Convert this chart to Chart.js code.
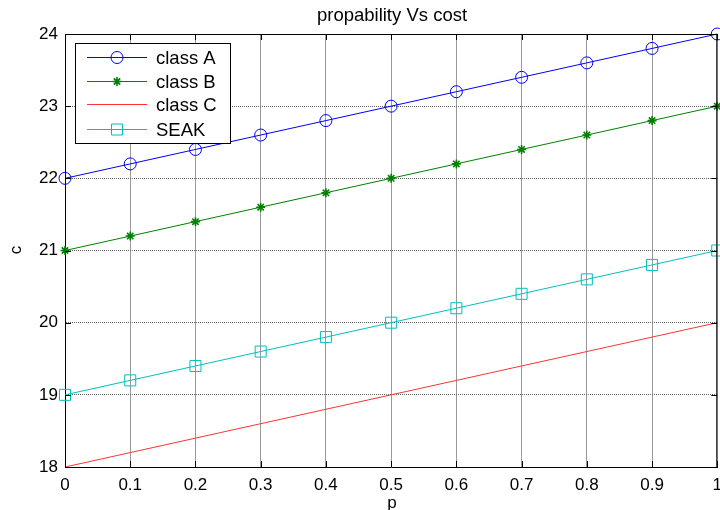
<!DOCTYPE html>
<html>
<head>
<meta charset="utf-8">
<script src="https://cdn.jsdelivr.net/npm/chart.js@4.4.1/dist/chart.umd.min.js"></script>
<style>
  html, body { margin: 0; padding: 0; background: #fff; overflow: hidden; }
  #wrap { width: 730px; height: 520px; }
</style>
</head>
<body>
<div id="wrap"><canvas id="c" width="730" height="520"></canvas></div>
<script>
// values
const pValues = [0, 0.1, 0.2, 0.3, 0.4, 0.5, 0.6, 0.7, 0.8, 0.9, 1];
const classA = [22, 22.2, 22.4, 22.6, 22.8, 23, 23.2, 23.4, 23.6, 23.8, 24];
const classB = [21, 21.2, 21.4, 21.6, 21.8, 22, 22.2, 22.4, 22.6, 22.8, 23];
const classC = [18, 18.2, 18.4, 18.6, 18.8, 19, 19.2, 19.4, 19.6, 19.8, 20];
const seak   = [19, 19.2, 19.4, 19.6, 19.8, 20, 20.2, 20.4, 20.6, 20.8, 21];
const seriesNames = ['class A', 'class B', 'class C', 'SEAK'];
const xTicks = [0, 0.1, 0.2, 0.3, 0.4, 0.5, 0.6, 0.7, 0.8, 0.9, 1];
const yTicks = [18, 19, 20, 21, 22, 23, 24];

const FONT = 'Liberation Sans, Arial, Helvetica, sans-serif';

const pts = arr => arr.map((v, i) => ({ x: pValues[i], y: v }));

// frame, inward ticks, labels and the legend box (matlab look)
const matlabDeco = {
  id: 'matlabDeco',
  afterDraw(chart) {
    const { ctx, chartArea: a, scales } = chart;
    ctx.save();
    ctx.strokeStyle = '#000';
    ctx.lineWidth = 1;
    ctx.beginPath();
    ctx.moveTo(a.left, a.top + 0.5); ctx.lineTo(a.right, a.top + 0.5);
    ctx.moveTo(a.right - 0.5, a.top); ctx.lineTo(a.right - 0.5, a.bottom);
    xTicks.forEach(t => {
      const x = Math.round(scales.x.getPixelForValue(t)) + 0.5;
      ctx.moveTo(x, a.top); ctx.lineTo(x, a.top + 6);
      ctx.moveTo(x, a.bottom); ctx.lineTo(x, a.bottom - 6);
    });
    yTicks.forEach(t => {
      const y = Math.round(scales.y.getPixelForValue(t)) + 0.5;
      ctx.moveTo(a.left, y); ctx.lineTo(a.left + 6, y);
      ctx.moveTo(a.right, y); ctx.lineTo(a.right - 6, y);
    });
    ctx.stroke();

    ctx.fillStyle = '#000';
    ctx.font = '18.5px ' + FONT;
    ctx.textAlign = 'center';
    ctx.textBaseline = 'middle';
    ctx.fillText('propability Vs cost', 392, 16);
    ctx.font = '17px ' + FONT;
    ctx.fillText('p', 392, 503);
    ctx.save();
    ctx.translate(16, 250);
    ctx.rotate(-Math.PI / 2);
    ctx.fillText('c', 0, 0);
    ctx.restore();

    // legend
    const lx = 75, ly = 43, lw = 155, lh = 100;
    ctx.fillStyle = '#fff';
    ctx.fillRect(lx, ly, lw, lh);
    ctx.strokeStyle = '#000';
    ctx.strokeRect(lx + 0.5, ly + 0.5, lw, lh);
    const rows = [57, 81, 104, 129];
    chart.data.datasets.forEach((ds, i) => {
      const y = rows[i] + 0.5;
      ctx.strokeStyle = ds.borderColor;
      ctx.lineWidth = 1;
      ctx.beginPath();
      ctx.moveTo(87, y); ctx.lineTo(147, y);
      ctx.stroke();
      if (ds.pointRadius > 0) {
        ctx.fillStyle = 'rgba(0,0,0,0)';
        ctx.strokeStyle = ds.borderColor;
        ctx.lineWidth = ds.pointBorderWidth;
        Chart.helpers.drawPoint(ctx, {
          pointStyle: ds.pointStyle, rotation: 0,
          radius: ds.pointRadius, borderWidth: ds.pointBorderWidth
        }, 117, y);
      }
      ctx.fillStyle = '#000';
      ctx.font = '18.5px ' + FONT;
      ctx.textAlign = 'left';
      ctx.fillText(seriesNames[i], 156, y + 1);
    });
    ctx.restore();
  }
};

new Chart(document.getElementById('c'), {
  type: 'line',
  data: {
    datasets: [
      { label: seriesNames[0], data: pts(classA), borderColor: '#0000ff', backgroundColor: 'rgba(0,0,0,0)',
        pointStyle: 'circle', pointRadius: 6, pointBorderWidth: 1, borderWidth: 1 },
      { label: seriesNames[1], data: pts(classB), borderColor: '#008000', backgroundColor: 'rgba(0,0,0,0)',
        pointStyle: 'star', pointRadius: 4.5, pointBorderWidth: 1.6, borderWidth: 1 },
      { label: seriesNames[2], data: pts(classC), borderColor: '#ff3333', backgroundColor: 'rgba(0,0,0,0)',
        pointRadius: 0, borderWidth: 1 },
      { label: seriesNames[3], data: pts(seak), borderColor: '#00bfbf', backgroundColor: 'rgba(0,0,0,0)',
        pointStyle: 'rect', pointRadius: 7.8, pointBorderWidth: 1, borderWidth: 1 }
    ]
  },
  options: {
    responsive: false,
    animation: false,
    clip: false,
    layout: { padding: { top: 34, left: 0, right: 8, bottom: 0 } },
    plugins: { legend: { display: false }, title: { display: false }, tooltip: { enabled: false } },
    scales: {
      x: {
        type: 'linear', min: 0, max: 1,
        afterBuildTicks: s => { s.ticks = xTicks.map(v => ({ value: v })); },
        afterFit: s => { s.height = 53; },
        ticks: { color: '#000', font: { family: FONT, size: 17 }, padding: 8, maxRotation: 0,
                 callback: v => String(v) },
        grid: { color: '#999', lineWidth: 1, drawTicks: false },
        border: { color: '#000', width: 1 }
      },
      y: {
        type: 'linear', min: 18, max: 24,
        afterBuildTicks: s => { s.ticks = yTicks.map(v => ({ value: v })); },
        afterFit: s => { s.width = 65; },
        ticks: { color: '#000', font: { family: FONT, size: 17 }, padding: 7 },
        grid: { color: '#666', lineWidth: 1, drawTicks: false },
        border: { color: '#000', width: 1, dash: [1, 1] }
      }
    }
  },
  plugins: [matlabDeco]
});
</script>
</body>
</html>
